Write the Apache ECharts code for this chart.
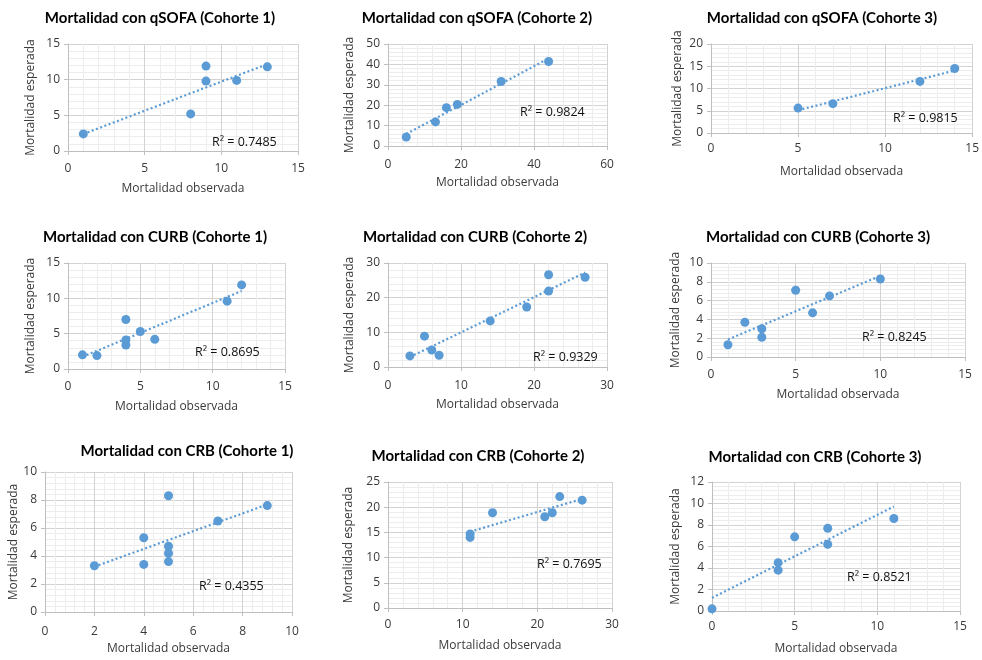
<!DOCTYPE html>
<html><head><meta charset="utf-8">
<script src="https://cdn.jsdelivr.net/npm/echarts@6/dist/echarts.min.js"></script>
<style>html,body{margin:0;padding:0;background:#fff}#c{width:982px;height:660px}</style>
</head><body><div id="c"></div><script>
// ---- data ----
const titles = [
  'Mortalidad con qSOFA (Cohorte 1)', 'Mortalidad con qSOFA (Cohorte 2)', 'Mortalidad con qSOFA (Cohorte 3)',
  'Mortalidad con CURB (Cohorte 1)', 'Mortalidad con CURB (Cohorte 2)', 'Mortalidad con CURB (Cohorte 3)',
  'Mortalidad con CRB (Cohorte 1)', 'Mortalidad con CRB (Cohorte 2)', 'Mortalidad con CRB (Cohorte 3)'
];
const r2Labels = ['R² = 0.7485', 'R² = 0.9824', 'R² = 0.9815', 'R² = 0.8695', 'R² = 0.9329', 'R² = 0.8245', 'R² = 0.4355', 'R² = 0.7695', 'R² = 0.8521'];
const xAxisName = 'Mortalidad observada';
const yAxisName = 'Mortalidad esperada';

const qsofa1Obs = [1, 8, 9, 9, 11, 13];
const qsofa1Esp = [2.4, 5.2, 9.8, 11.9, 9.9, 11.8];
const qsofa2Obs = [5, 13, 16, 19, 31, 44];
const qsofa2Esp = [4.4, 11.8, 18.8, 20.4, 31.6, 41.4];
const qsofa3Obs = [5, 7, 12, 14];
const qsofa3Esp = [5.6, 6.6, 11.6, 14.5];
const curb1Obs = [1, 2, 4, 4, 4, 5, 6, 11, 12];
const curb1Esp = [2.0, 1.9, 7.0, 4.1, 3.4, 5.3, 4.2, 9.6, 11.9];
const curb2Obs = [3, 5, 6, 7, 14, 19, 22, 22, 27];
const curb2Esp = [3.2, 8.9, 4.9, 3.4, 13.3, 17.3, 26.6, 21.9, 25.9];
const curb3Obs = [1, 2, 3, 3, 5, 6, 7, 10];
const curb3Esp = [1.3, 3.7, 3.0, 2.1, 7.1, 4.7, 6.5, 8.3];
const crb1Obs = [2, 4, 4, 5, 5, 5, 5, 7, 9];
const crb1Esp = [3.3, 5.3, 3.4, 8.3, 4.7, 4.2, 3.6, 6.5, 7.6];
const crb2Obs = [11, 11, 14, 21, 22, 23, 26];
const crb2Esp = [14.7, 14.0, 18.9, 18.1, 18.9, 22.1, 21.4];
const crb3Obs = [0, 4, 4, 5, 7, 7, 11];
const crb3Esp = [0.2, 4.5, 3.8, 6.9, 7.7, 6.2, 8.6];

const xMax = [15, 60, 15, 15, 30, 15, 10, 30, 15];
const xStep = [5, 20, 5, 5, 10, 5, 2, 10, 5];
const yMax = [15, 50, 20, 15, 30, 10, 10, 25, 12];
const yStep = [5, 10, 5, 5, 10, 2, 2, 5, 2];

const panels = [
  [qsofa1Obs, qsofa1Esp], [qsofa2Obs, qsofa2Esp], [qsofa3Obs, qsofa3Esp],
  [curb1Obs, curb1Esp], [curb2Obs, curb2Esp], [curb3Obs, curb3Esp],
  [crb1Obs, crb1Esp], [crb2Obs, crb2Esp], [crb3Obs, crb3Esp]
];

// ---- layout (pixels) ----
const layout = [
  {l: 68, r: 298, t: 44, b: 151, tx: 160, ty: 18, rx: 212, ry: 142, xg: 32, yg: 31, xm: 12},
  {l: 388, r: 607, t: 44, b: 146, tx: 477, ty: 18, rx: 520, ry: 112, xg: 31, yg: 32, xm: 13},
  {l: 711, r: 973, t: 44, b: 133, tx: 822, ty: 18, rx: 893, ry: 118, xg: 33, yg: 27, xm: 10},
  {l: 68, r: 285, t: 263, b: 369, tx: 155, ty: 237, rx: 195, ry: 352, xg: 32, yg: 31, xm: 12},
  {l: 388, r: 607, t: 263, b: 367, tx: 475, ty: 237, rx: 533, ry: 357, xg: 32, yg: 32, xm: 13},
  {l: 711, r: 965, t: 263, b: 357, tx: 818, ty: 237, rx: 862, ry: 337, xg: 32, yg: 29, xm: 12},
  {l: 45, r: 292, t: 472, b: 612, tx: 187, ty: 451, rx: 199, ry: 586, xg: 31, yg: 21, xm: 14},
  {l: 388, r: 612, t: 482, b: 608, tx: 478, ty: 456, rx: 537, ry: 564, xg: 32, yg: 33, xm: 11},
  {l: 712, r: 960, t: 482, b: 611, tx: 815, ty: 457, rx: 847, ry: 577, xg: 32, yg: 30, xm: 10}
];

const W = 982, H = 660;
const BLUE = '#5B9BD5';
const TFONT = 'Lato, "Open Sans", sans-serif';
const FONT = '"Open Sans", "Noto Sans", sans-serif';
const TXT = '#3a3a3a';

function regression(xs, ys) {
  const n = xs.length;
  const mx = xs.reduce((a, b) => a + b, 0) / n;
  const my = ys.reduce((a, b) => a + b, 0) / n;
  let sxy = 0, sxx = 0;
  for (let i = 0; i < n; i++) { sxy += (xs[i] - mx) * (ys[i] - my); sxx += (xs[i] - mx) ** 2; }
  const b = sxy / sxx, a = my - b * mx;
  const x0 = Math.min(...xs), x1 = Math.max(...xs);
  return [[x0, a + b * x0], [x1, a + b * x1]];
}

const grid = [], xAxis = [], yAxis = [], series = [], graphic = [];
panels.forEach((p, i) => {
  const L = layout[i];
  grid.push({left: L.l, top: L.t, width: L.r - L.l, height: L.b - L.t, containLabel: false});
  const common = {
    gridIndex: i, type: 'value', min: 0,
    axisLine: {show: true, lineStyle: {color: '#bfbfbf', width: 1}},
    axisTick: {show: true, length: 4, lineStyle: {color: '#bfbfbf'}},
    splitLine: {show: true, lineStyle: {color: '#d3d3d3', width: 1}},
    minorTick: {show: false, splitNumber: 5},
    minorSplitLine: {show: true, lineStyle: {color: '#ededed', width: 1}},
    nameLocation: 'middle',
    nameTextStyle: {color: TXT, fontSize: 12, fontFamily: FONT}
  };
  xAxis.push(Object.assign({}, common, {
    max: xMax[i], interval: xStep[i], name: xAxisName, nameGap: L.xg,
    axisLabel: {color: TXT, fontSize: 12, fontFamily: FONT, margin: L.xm}
  }));
  yAxis.push(Object.assign({}, common, {
    max: yMax[i], interval: yStep[i], name: yAxisName, nameGap: L.yg,
    axisLabel: {color: TXT, fontSize: 12, fontFamily: FONT, margin: 8}
  }));
  series.push({
    type: 'scatter', xAxisIndex: i, yAxisIndex: i, symbolSize: 9,
    itemStyle: {color: BLUE, opacity: 1},
    data: p[0].map((x, k) => [x, p[1][k]]), z: 3
  });
  series.push({
    type: 'line', xAxisIndex: i, yAxisIndex: i, symbol: 'none', silent: true,
    lineStyle: {color: BLUE, width: 2.2, type: [2, 2.5]},
    data: regression(p[0], p[1]), z: 2
  });
  graphic.push({type: 'text', x: L.tx, y: L.ty, style: {text: titles[i], font: 'bold 15px ' + TFONT, fill: '#000', align: 'center', verticalAlign: 'middle'}});
  graphic.push({type: 'text', x: L.rx, y: L.ry, z: 10, style: {text: r2Labels[i], font: '12.5px ' + FONT, fill: '#111', align: 'left', verticalAlign: 'middle'}});
});

const chart = echarts.init(document.getElementById('c'), null, {renderer: 'canvas', width: W, height: H});
chart.setOption({animation: false, backgroundColor: '#fff', grid, xAxis, yAxis, series, graphic});
</script></body></html>
